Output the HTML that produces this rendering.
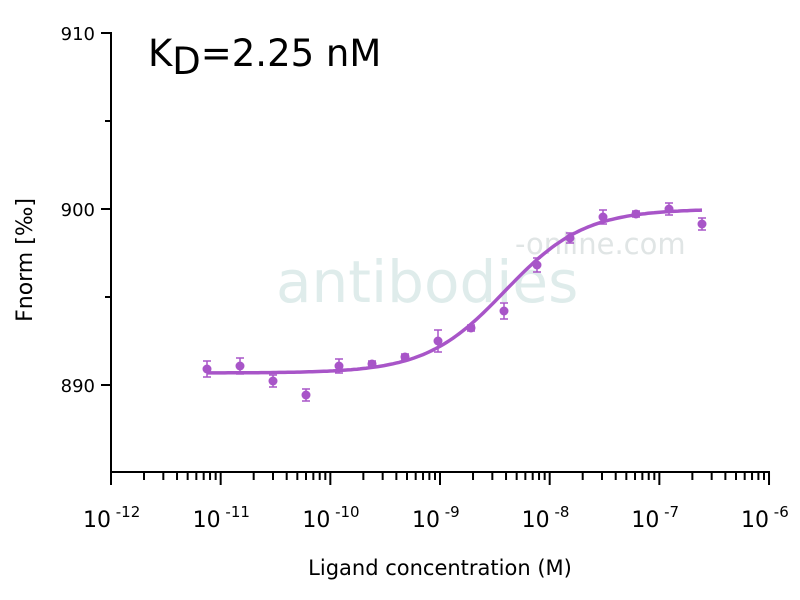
<!DOCTYPE html>
<html><head><meta charset="utf-8"><style>body{margin:0;background:#fff}svg{display:block}</style></head>
<body>
<svg id="s" width="800" height="600" xmlns="http://www.w3.org/2000/svg" font-family="'DejaVu Sans','Liberation Sans',sans-serif">
<rect width="800" height="600" fill="#fff"/>
<text x="276" y="302" font-size="58" fill="#dfeceb">antibodies</text>
<text x="515" y="254" font-size="29" fill="#e0e5e5">-online.com</text>
<g stroke="#000" stroke-width="2" fill="none" id="ax">
<line x1="111" y1="32" x2="111" y2="473"/>
<line x1="110" y1="472" x2="770" y2="472"/>
</g>
<g font-size="18" fill="#000" text-anchor="end">
<text x="95" y="40">910</text><text x="95" y="216">900</text><text x="95" y="392">890</text>
</g>
<text x="148" y="66" font-size="37" fill="#000">K<tspan dy="8">D</tspan><tspan dy="-8">=2.25 nM</tspan></text>
<text transform="translate(32,260) rotate(-90)" font-size="22" text-anchor="middle" fill="#000">Fnorm [‰]</text>
<text x="440" y="575" font-size="21" text-anchor="middle" fill="#000">Ligand concentration (M)</text>
<g id="xl" font-size="22" fill="#000"></g>
<g id="d"></g>
</svg>
<script>
var ns="http://www.w3.org/2000/svg",ax=document.getElementById('ax'),xl=document.getElementById('xl'),d=document.getElementById('d');
function el(t,a,p){var e=document.createElementNS(ns,t);for(var k in a)e.setAttribute(k,a[k]);p.appendChild(e);return e;}
var X0=111,DX=109.67;
[33,209,385].forEach(function(y){el('line',{x1:101,y1:y,x2:111,y2:y},ax)});
[121,297].forEach(function(y){el('line',{x1:105,y1:y,x2:111,y2:y},ax)});
for(var dec=0;dec<=6;dec++){var x=X0+dec*DX;el('line',{x1:x,y1:472,x2:x,y2:485},ax);
 var t=el('text',{x:x-28,y:527},xl);t.textContent='10';var s=el('tspan',{dy:-10,'font-size':15},t);s.textContent=' -'+(12-dec);
 if(dec<6)for(var m=2;m<=9;m++){var xm=x+Math.log10(m)*DX;el('line',{x1:xm,y1:472,x2:xm,y2:480},ax);}}
var col="#a855c8";
var pts=[[207,369,8],[240,366,8],[273,381,6],[306,395,6],[339,366,7],[372,364,3],[405,357,3],[438,341,11],[471,328,3],[504,311,8],[537,265,7],[570,238,5],[603,217,7],[636,214,3],[669,209,6],[702,224,6]];
var p='';for(var x=207;x<=702;x+=3){var y=373-164/(1+Math.pow(10,-1.2*(x-505)/DX));p+=(p?'L':'M')+x+','+y.toFixed(1);}
el('path',{d:p,stroke:col,'stroke-width':3.5,fill:'none'},d);
pts.forEach(function(q){var x=q[0],y=q[1],e=q[2];el('path',{d:'M'+(x-4)+','+(y-e)+'h8M'+x+','+(y-e)+'v'+(2*e)+'M'+(x-4)+','+(y+e)+'h8',stroke:col,'stroke-width':1.5,fill:'none'},d);el('circle',{cx:x,cy:y,r:4.5,fill:col},d);});
</script>
</body></html>
